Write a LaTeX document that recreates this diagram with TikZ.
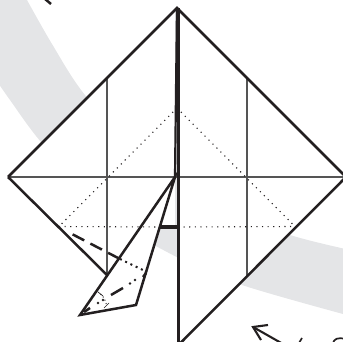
\documentclass[tikz,border=0pt]{standalone}
\definecolor{bandgrey}{HTML}{E4E5E7}
\definecolor{inkline}{HTML}{231F20}
\definecolor{foldline}{HTML}{555555}
\tikzset{
  edgeline/.style={draw=inkline,line width=2.5pt,line join=miter},
  heavyline/.style={draw=inkline,line width=3.2pt},
  creaseline/.style={draw=foldline,line width=1.4pt},
  dotline/.style={draw=inkline,line width=1.1pt,dash pattern=on 1.1pt off 4.5pt},
  valleyline/.style={draw=inkline,line width=2.5pt,dash pattern=on 13pt off 7pt},
  tickline/.style={draw=inkline,line width=0.7pt},
}
\begin{document}
\begin{tikzpicture}[x=1pt,y=-1pt]
\useasboundingbox (0,0) rectangle (343,342);
\clip (0,0) rectangle (343,342);
\coordinate (T) at (177,8);
\coordinate (L) at (8,177);
\coordinate (R) at (346,177);
\coordinate (B) at (177.5,346);
\coordinate (C) at (175,177);
\coordinate (FL) at (80,315);
\coordinate (FR) at (136,305);
\coordinate (DA) at (177,108);
\coordinate (DL) at (59,226.5);
\coordinate (DR) at (295,226.5);
\coordinate (SL) at (160,227);
\coordinate (SR) at (178,227);
\coordinate (VLt) at (107,78);
\coordinate (VLb) at (107,275);
\coordinate (VRt) at (247,78);
\coordinate (VRb) at (247,276);
\coordinate (MP) at (147,272);
% band
\fill[bandgrey] plot[smooth] coordinates {(27,0) (52,44) (85,95) (150,165) (220,208) (290,235) (350,250)}
  -- (350,316) -- plot[smooth] coordinates {(343,314) (242,285) (177,257) (157,247) (100,205) (41,142) (10,100) (-6,77)} -- (-6,0) -- cycle;
% paper
\fill[white] (T) -- (R) -- (B) -- (L) -- cycle;
\fill[bandgrey] (SL) -- (SR) -- (177.5,257.5) -- (150,243) -- cycle;
\fill[bandgrey] (175,8) rectangle (178.5,227);
% flap
\fill[white] (C) -- (FR) -- (FL) -- cycle;
% creases
\draw[creaseline] (L) -- (R);
\draw[creaseline] (VLt) -- (VLb);
\draw[creaseline] (VRt) -- (VRb);
% dotted
\draw[dotline] (DA) -- (DL);
\draw[dotline] (DA) -- (DR);
\draw[dotline] (DL) -- (SL);
\draw[dotline] (SR) -- (DR);
% outline
\draw[edgeline] (L) -- (T) -- (R) -- (B);
\draw[edgeline] (L) -- (VLb);
\draw[edgeline] (C) -- (FL) -- (FR) -- cycle;
\draw[edgeline,line width=2.2pt] (T) -- (C);
\draw[heavyline] (178.7,8) -- (178.7,346);
\draw[edgeline,line width=1pt] (175,107) -- (178.5,107);
\draw[heavyline] (SL) -- (SR);
% fold marks on the flap
\draw[valleyline,dash phase=-3pt] (70,233) -- (120,259);
\draw[dotline,line width=2pt,dash pattern=on 2pt off 3.8pt] (120,259) -- (MP);
\draw[inkline,line width=2.5pt] (84,312) -- (90,308) (111,295) -- (123,288) (143,277) -- (146,273);
\fill[inkline] (130,283.5) circle (1.3) (135,280) circle (1.3) (98,303) circle (1.3) (103,300) circle (1.3);
% angle marks
\draw[tickline] (98,292) -- (103,296);
\draw[tickline] (104,308) -- (109,303);
\draw[dotline,line width=1pt,dash pattern=on 1pt off 2.6pt] (100.5,294) .. controls (104,297) and (106,301) .. (106.5,305.5);
% clipped items at the picture edge
\draw[inkline,line width=2.5pt] (45,-1) -- (51,4);
\draw[inkline,line width=2.1pt] (253,327) -- (283,344);
\draw[inkline,line width=2.1pt] (268,325) -- (253,327) -- (261,340);
\draw[inkline,line width=1.7pt] (299,343) -- (302,338);
\draw[inkline,line width=1.7pt] (333,343) .. controls (334,339) and (338,337) .. (345,339);
\end{tikzpicture}
\end{document}
